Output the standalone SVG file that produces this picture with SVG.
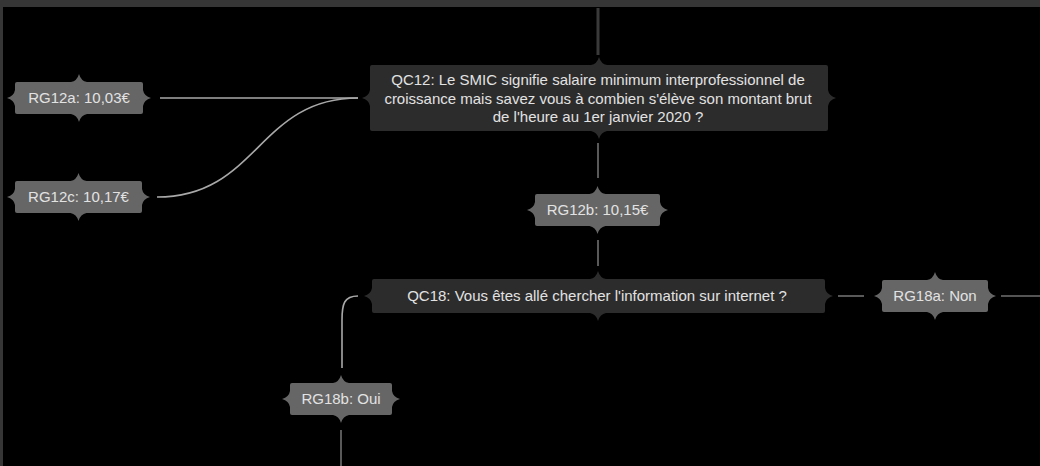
<svg xmlns="http://www.w3.org/2000/svg" xmlns:xlink="http://www.w3.org/1999/xlink" width="1040" height="466" viewBox="0 0 1040 466">
  <defs>
    <path id="spike" d="M-8,0 Q-2,-1 0,-8 Q2,-1 8,0 Z"/>
    <style>
      .q rect, .q use { fill: #2c2c2c; }
      .r rect, .r use { fill: #666666; }
      text { font-family: "Liberation Sans", Arial, sans-serif; font-size: 15px; fill: #e2e2e2; text-anchor: middle; }
      .c { fill: none; stroke-width: 1.6; }
      .lt { stroke: #a8a8a8; }
      .md { stroke: #707070; }
      .dk { stroke: #3a3a3a; stroke-width: 3; }
    </style>
  </defs>
  <rect x="0" y="0" width="1040" height="466" fill="#000000"/>
  <rect x="0" y="0" width="1040" height="7" fill="#363636"/>
  <rect x="0" y="0" width="3" height="466" fill="#363636"/>

  <g id="connectors">
    <line class="c dk" x1="598" y1="8" x2="598" y2="55"/>
    <line class="c lt" x1="160" y1="98" x2="358" y2="98"/>
    <path class="c lt" d="M157,197 C258,197 258,98 358,98"/>
    <line class="c md" x1="598" y1="143" x2="598" y2="178"/>
    <line class="c md" x1="598" y1="240" x2="598" y2="266"/>
    <line class="c md" x1="838" y1="296" x2="864" y2="296"/>
    <line class="c md" x1="1001" y1="296" x2="1040" y2="296"/>
    <path class="c lt" d="M358,296 C344,296 342,304 342,320 L342,368"/>
    <line class="c md" x1="341" y1="430" x2="341" y2="466"/>
  </g>

  <g id="QC12" class="q">
    <rect x="370" y="65" width="458" height="66" rx="2"/>
    <use xlink:href="#spike" transform="translate(599,65)"/>
    <use xlink:href="#spike" transform="translate(599,131) rotate(180)"/>
    <use xlink:href="#spike" transform="translate(370,98) rotate(-90)"/>
    <use xlink:href="#spike" transform="translate(828,98) rotate(90)"/>
    <text x="598" y="85">QC12: Le SMIC signifie salaire minimum interprofessionnel de</text>
    <text x="598" y="103.5">croissance mais savez vous à combien s'élève son montant brut</text>
    <text x="598" y="122">de l'heure au 1er janvier 2020 ?</text>
  </g>

  <g id="RG12a" class="r">
    <rect x="15" y="82" width="128" height="32" rx="2"/>
    <use xlink:href="#spike" transform="translate(79,82)"/>
    <use xlink:href="#spike" transform="translate(79,114) rotate(180)"/>
    <use xlink:href="#spike" transform="translate(15,98) rotate(-90)"/>
    <use xlink:href="#spike" transform="translate(143,98) rotate(90)"/>
    <text x="79" y="103">RG12a: 10,03€</text>
  </g>

  <g id="RG12c" class="r">
    <rect x="15" y="181" width="127" height="32" rx="2"/>
    <use xlink:href="#spike" transform="translate(78.5,181)"/>
    <use xlink:href="#spike" transform="translate(78.5,213) rotate(180)"/>
    <use xlink:href="#spike" transform="translate(15,197) rotate(-90)"/>
    <use xlink:href="#spike" transform="translate(142,197) rotate(90)"/>
    <text x="78.5" y="202">RG12c: 10,17€</text>
  </g>

  <g id="RG12b" class="r">
    <rect x="535" y="194" width="125" height="32" rx="2"/>
    <use xlink:href="#spike" transform="translate(597.5,194)"/>
    <use xlink:href="#spike" transform="translate(597.5,226) rotate(180)"/>
    <use xlink:href="#spike" transform="translate(535,210) rotate(-90)"/>
    <use xlink:href="#spike" transform="translate(660,210) rotate(90)"/>
    <text x="597.5" y="215">RG12b: 10,15€</text>
  </g>

  <g id="QC18" class="q">
    <rect x="372" y="279" width="453" height="34" rx="2"/>
    <use xlink:href="#spike" transform="translate(598,279)"/>
    <use xlink:href="#spike" transform="translate(598,313) rotate(180)"/>
    <use xlink:href="#spike" transform="translate(372,296) rotate(-90)"/>
    <use xlink:href="#spike" transform="translate(825,296) rotate(90)"/>
    <text x="597" y="301">QC18: Vous êtes allé chercher l'information sur internet ?</text>
  </g>

  <g id="RG18a" class="r">
    <rect x="882" y="280" width="106" height="32" rx="2"/>
    <use xlink:href="#spike" transform="translate(935,280)"/>
    <use xlink:href="#spike" transform="translate(935,312) rotate(180)"/>
    <use xlink:href="#spike" transform="translate(882,296) rotate(-90)"/>
    <use xlink:href="#spike" transform="translate(988,296) rotate(90)"/>
    <text x="935" y="301">RG18a: Non</text>
  </g>

  <g id="RG18b" class="r">
    <rect x="290" y="383" width="102" height="32" rx="2"/>
    <use xlink:href="#spike" transform="translate(341,383)"/>
    <use xlink:href="#spike" transform="translate(341,415) rotate(180)"/>
    <use xlink:href="#spike" transform="translate(290,399) rotate(-90)"/>
    <use xlink:href="#spike" transform="translate(392,399) rotate(90)"/>
    <text x="341" y="404">RG18b: Oui</text>
  </g>
</svg>
